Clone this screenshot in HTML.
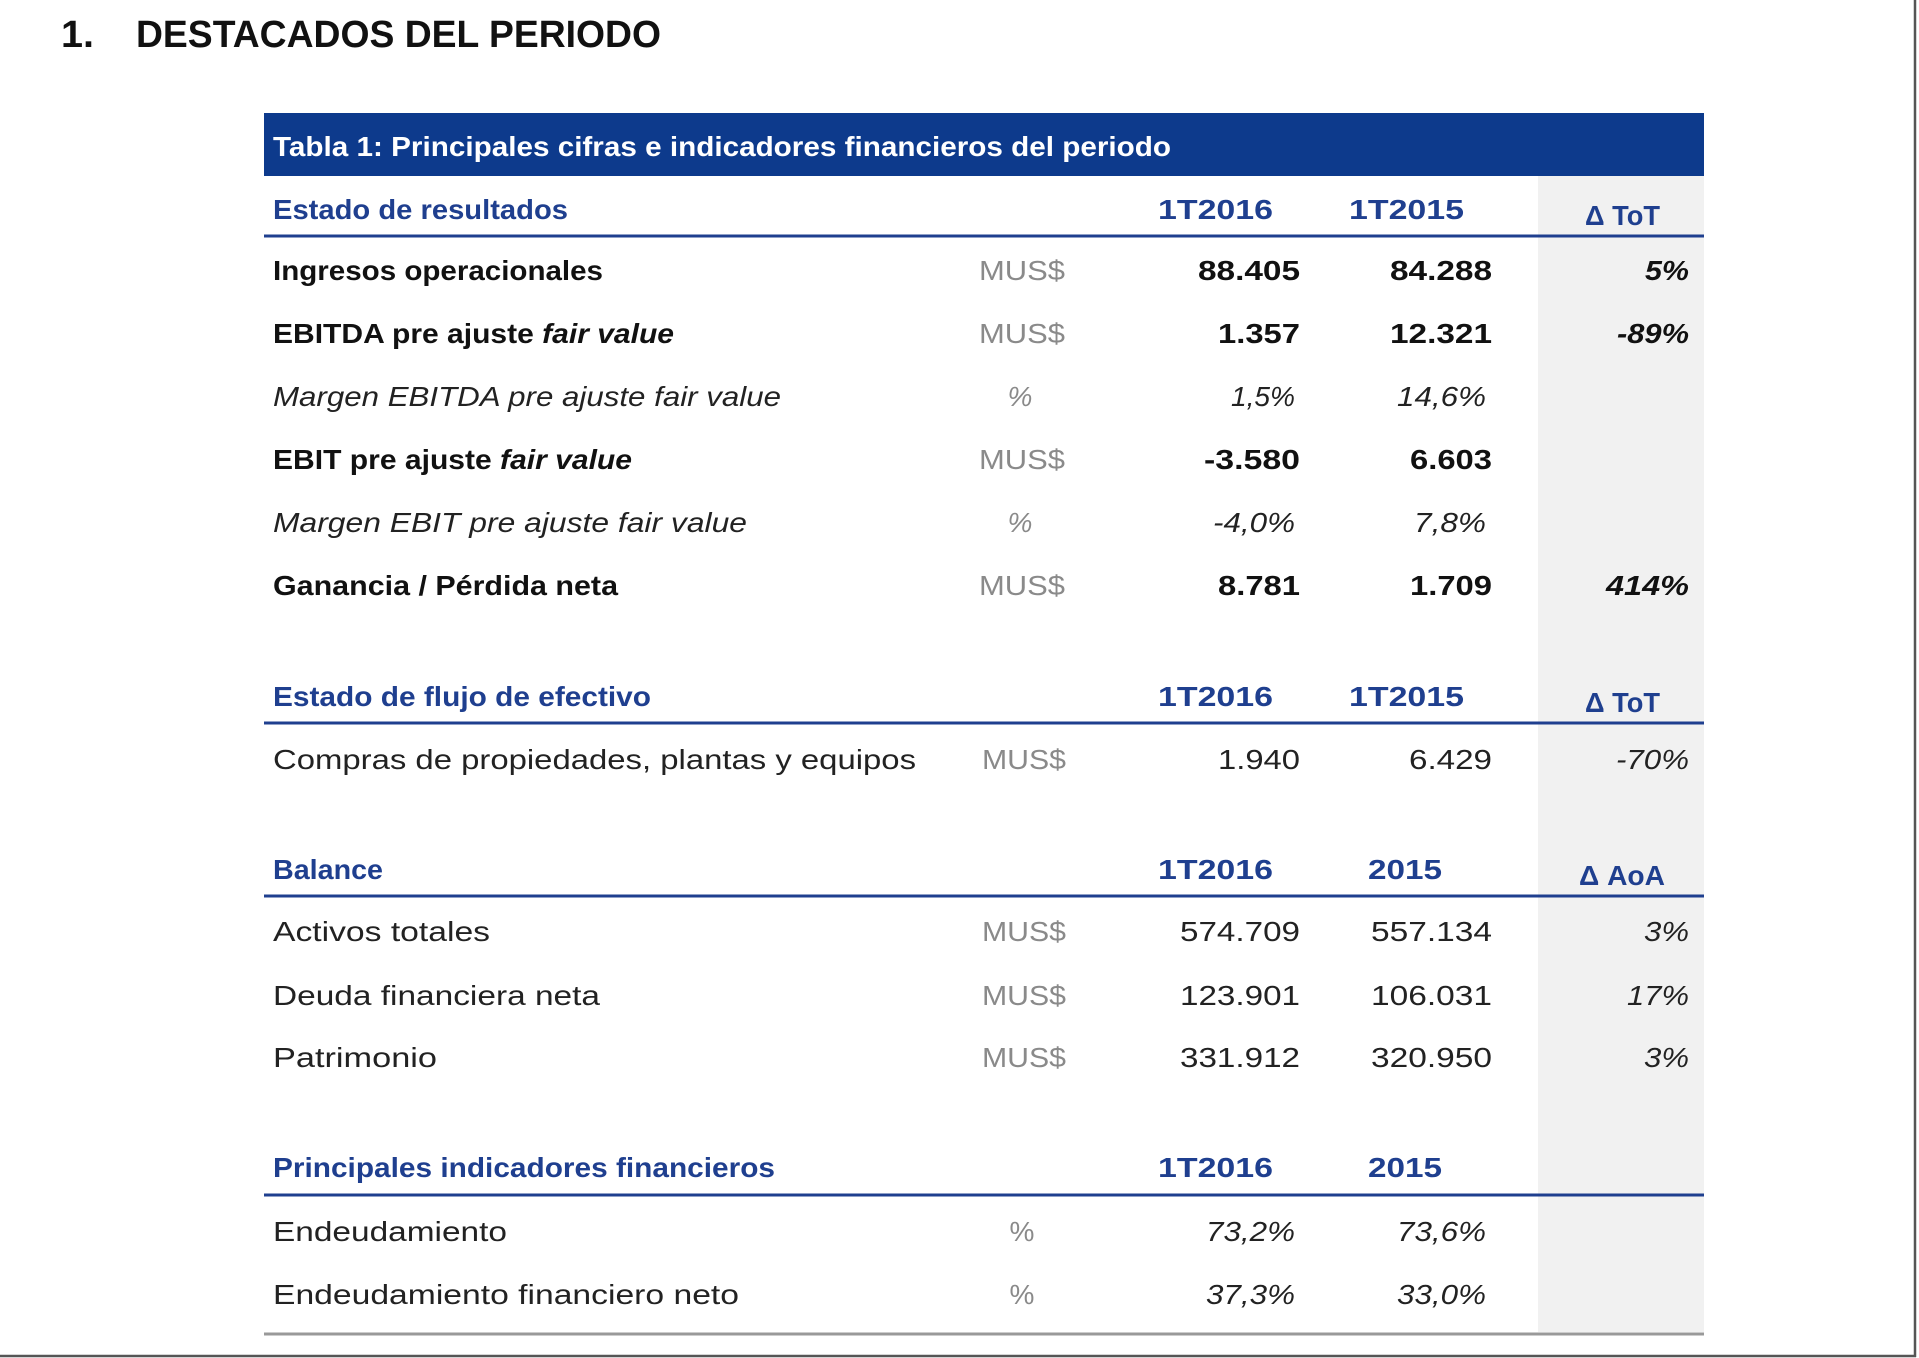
<!DOCTYPE html>
<html><head><meta charset="utf-8"><style>
html,body{margin:0;padding:0;background:#fff;}
svg{display:block;font-family:"Liberation Sans",sans-serif;}
</style></head><body>
<svg width="1919" height="1358" viewBox="0 0 1919 1358" xmlns="http://www.w3.org/2000/svg">
<rect x="0" y="0" width="1919" height="1358" fill="#fff"/>
<rect x="1913" y="0" width="6" height="1358" fill="#fff"/>
<line x1="1915" y1="0" x2="1915" y2="1357" stroke="#555" stroke-width="2.5"/>
<line x1="0" y1="1356" x2="1916" y2="1356" stroke="#555" stroke-width="2.5"/>
<g font-weight="bold" font-size="38" fill="#111">
<text x="61" y="47" textLength="33" lengthAdjust="spacingAndGlyphs">1.</text>
<text x="136" y="47" textLength="525" lengthAdjust="spacingAndGlyphs">DESTACADOS DEL PERIODO</text>
</g>
<rect x="1538" y="175" width="166" height="1157" fill="#f1f1f1"/>
<rect x="264" y="113" width="1440" height="63" fill="#0d3a8c"/>
<text x="273" y="156" font-size="28" font-weight="bold" fill="#fff" textLength="898" lengthAdjust="spacingAndGlyphs">Tabla 1: Principales cifras e indicadores financieros del periodo</text>
<g stroke="#1f3f8f" stroke-width="3">
<line x1="264" y1="236" x2="1704" y2="236"/>
<line x1="264" y1="723" x2="1704" y2="723"/>
<line x1="264" y1="896" x2="1704" y2="896"/>
<line x1="264" y1="1195" x2="1704" y2="1195"/>
</g>
<line x1="264" y1="1334" x2="1704" y2="1334" stroke="#999" stroke-width="3"/>
<g font-size="28" font-weight="bold" fill="#1f3f8f" lengthAdjust="spacingAndGlyphs">
<text x="273" y="219" textLength="295" lengthAdjust="spacingAndGlyphs">Estado de resultados</text>
<text x="1158" y="219" textLength="115" lengthAdjust="spacingAndGlyphs">1T2016</text>
<text x="1349" y="219" textLength="115" lengthAdjust="spacingAndGlyphs">1T2015</text>
<text x="1585" y="225" textLength="75" lengthAdjust="spacingAndGlyphs">Δ ToT</text>
<text x="273" y="706" textLength="378" lengthAdjust="spacingAndGlyphs">Estado de flujo de efectivo</text>
<text x="1158" y="706" textLength="115" lengthAdjust="spacingAndGlyphs">1T2016</text>
<text x="1349" y="706" textLength="115" lengthAdjust="spacingAndGlyphs">1T2015</text>
<text x="1585" y="712" textLength="75" lengthAdjust="spacingAndGlyphs">Δ ToT</text>
<text x="273" y="879" textLength="110" lengthAdjust="spacingAndGlyphs">Balance</text>
<text x="1158" y="879" textLength="115" lengthAdjust="spacingAndGlyphs">1T2016</text>
<text x="1368" y="879" textLength="74" lengthAdjust="spacingAndGlyphs">2015</text>
<text x="1579" y="885" textLength="86" lengthAdjust="spacingAndGlyphs">Δ AoA</text>
<text x="273" y="1177" textLength="502" lengthAdjust="spacingAndGlyphs">Principales indicadores financieros</text>
<text x="1158" y="1177" textLength="115" lengthAdjust="spacingAndGlyphs">1T2016</text>
<text x="1368" y="1177" textLength="74" lengthAdjust="spacingAndGlyphs">2015</text>
</g>
<!-- labels -->
<g font-size="28" fill="#111">
<text x="273" y="280" font-weight="bold" textLength="330" lengthAdjust="spacingAndGlyphs">Ingresos operacionales</text>
<text x="273" y="343" font-weight="bold" textLength="401" lengthAdjust="spacingAndGlyphs">EBITDA  pre ajuste <tspan font-style="italic">fair value</tspan></text>
<text x="273" y="406" font-style="italic" fill="#222" textLength="508" lengthAdjust="spacingAndGlyphs">Margen EBITDA pre ajuste fair value</text>
<text x="273" y="469" font-weight="bold" textLength="359" lengthAdjust="spacingAndGlyphs">EBIT pre ajuste <tspan font-style="italic">fair value</tspan></text>
<text x="273" y="532" font-style="italic" fill="#222" textLength="474" lengthAdjust="spacingAndGlyphs">Margen EBIT pre ajuste fair value</text>
<text x="273" y="595" font-weight="bold" textLength="345" lengthAdjust="spacingAndGlyphs">Ganancia / Pérdida neta</text>
<text x="273" y="769" fill="#222" textLength="643" lengthAdjust="spacingAndGlyphs">Compras de propiedades, plantas y equipos</text>
<text x="273" y="941" fill="#222" textLength="217" lengthAdjust="spacingAndGlyphs">Activos totales</text>
<text x="273" y="1005" fill="#222" textLength="327" lengthAdjust="spacingAndGlyphs">Deuda financiera neta</text>
<text x="273" y="1067" fill="#222" textLength="164" lengthAdjust="spacingAndGlyphs">Patrimonio</text>
<text x="273" y="1241" fill="#222" textLength="234" lengthAdjust="spacingAndGlyphs">Endeudamiento</text>
<text x="273" y="1304" fill="#222" textLength="466" lengthAdjust="spacingAndGlyphs">Endeudamiento financiero neto</text>
</g>
<!-- units -->
<g font-size="28" fill="#8a8a8a">
<text x="979" y="280" textLength="86" lengthAdjust="spacingAndGlyphs">MUS$</text>
<text x="979" y="343" textLength="86" lengthAdjust="spacingAndGlyphs">MUS$</text>
<text x="1020" y="406" text-anchor="middle" font-style="italic">%</text>
<text x="979" y="469" textLength="86" lengthAdjust="spacingAndGlyphs">MUS$</text>
<text x="1020" y="532" text-anchor="middle" font-style="italic">%</text>
<text x="979" y="595" textLength="86" lengthAdjust="spacingAndGlyphs">MUS$</text>
<text x="982" y="769" textLength="84" lengthAdjust="spacingAndGlyphs">MUS$</text>
<text x="982" y="941" textLength="84" lengthAdjust="spacingAndGlyphs">MUS$</text>
<text x="982" y="1005" textLength="84" lengthAdjust="spacingAndGlyphs">MUS$</text>
<text x="982" y="1067" textLength="84" lengthAdjust="spacingAndGlyphs">MUS$</text>
<text x="1022" y="1241" text-anchor="middle">%</text>
<text x="1022" y="1304" text-anchor="middle">%</text>
</g>
<!-- values -->
<g font-size="28" fill="#111" text-anchor="end">
<g font-weight="bold">
<text x="1300" y="280" textLength="102" lengthAdjust="spacingAndGlyphs">88.405</text>
<text x="1492" y="280" textLength="102" lengthAdjust="spacingAndGlyphs">84.288</text>
<text x="1300" y="343" textLength="82" lengthAdjust="spacingAndGlyphs">1.357</text>
<text x="1492" y="343" textLength="102" lengthAdjust="spacingAndGlyphs">12.321</text>
<text x="1300" y="469" textLength="96" lengthAdjust="spacingAndGlyphs">-3.580</text>
<text x="1492" y="469" textLength="82" lengthAdjust="spacingAndGlyphs">6.603</text>
<text x="1300" y="595" textLength="82" lengthAdjust="spacingAndGlyphs">8.781</text>
<text x="1492" y="595" textLength="82" lengthAdjust="spacingAndGlyphs">1.709</text>
<g font-style="italic">
<text x="1689" y="280" textLength="44" lengthAdjust="spacingAndGlyphs">5%</text>
<text x="1689" y="343" textLength="72" lengthAdjust="spacingAndGlyphs">-89%</text>
<text x="1689" y="595" textLength="83" lengthAdjust="spacingAndGlyphs">414%</text>
</g>
</g>
<g font-style="italic" fill="#222">
<text x="1295" y="406" textLength="64" lengthAdjust="spacingAndGlyphs">1,5%</text>
<text x="1486" y="406" textLength="89" lengthAdjust="spacingAndGlyphs">14,6%</text>
<text x="1295" y="532" textLength="82" lengthAdjust="spacingAndGlyphs">-4,0%</text>
<text x="1486" y="532" textLength="72" lengthAdjust="spacingAndGlyphs">7,8%</text>
<text x="1689" y="769" textLength="73" lengthAdjust="spacingAndGlyphs">-70%</text>
<text x="1689" y="941" textLength="45" lengthAdjust="spacingAndGlyphs">3%</text>
<text x="1689" y="1005" textLength="62" lengthAdjust="spacingAndGlyphs">17%</text>
<text x="1689" y="1067" textLength="45" lengthAdjust="spacingAndGlyphs">3%</text>
<text x="1295" y="1241" textLength="89" lengthAdjust="spacingAndGlyphs">73,2%</text>
<text x="1486" y="1241" textLength="89" lengthAdjust="spacingAndGlyphs">73,6%</text>
<text x="1295" y="1304" textLength="89" lengthAdjust="spacingAndGlyphs">37,3%</text>
<text x="1486" y="1304" textLength="89" lengthAdjust="spacingAndGlyphs">33,0%</text>
</g>
<g fill="#222">
<text x="1300" y="769" textLength="82" lengthAdjust="spacingAndGlyphs">1.940</text>
<text x="1492" y="769" textLength="83" lengthAdjust="spacingAndGlyphs">6.429</text>
<text x="1300" y="941" textLength="120" lengthAdjust="spacingAndGlyphs">574.709</text>
<text x="1492" y="941" textLength="121" lengthAdjust="spacingAndGlyphs">557.134</text>
<text x="1300" y="1005" textLength="120" lengthAdjust="spacingAndGlyphs">123.901</text>
<text x="1492" y="1005" textLength="121" lengthAdjust="spacingAndGlyphs">106.031</text>
<text x="1300" y="1067" textLength="120" lengthAdjust="spacingAndGlyphs">331.912</text>
<text x="1492" y="1067" textLength="121" lengthAdjust="spacingAndGlyphs">320.950</text>
</g>
</g>
</svg>
</body></html>
